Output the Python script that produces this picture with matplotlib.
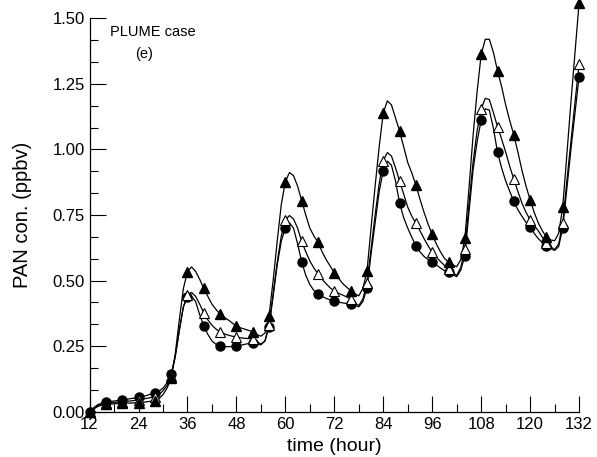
import matplotlib
matplotlib.use("Agg")
import matplotlib.pyplot as plt
from matplotlib.ticker import MultipleLocator, FixedLocator
import numpy as np

plt.rcParams['font.family'] = ['Liberation Sans', 'DejaVu Sans']

# time axis (hours) for the curves
hours = list(range(12, 133))

# filled triangles
case_a = [0.000, 0.010, 0.020, 0.025, 0.028, 0.029, 0.030, 0.031, 0.032, 0.033, 0.033, 0.034,
          0.035, 0.036, 0.038, 0.040, 0.042, 0.050, 0.065, 0.090, 0.127, 0.220, 0.350, 0.470,
          0.534, 0.552, 0.535, 0.505, 0.470, 0.440, 0.410, 0.390, 0.372, 0.360, 0.350, 0.338,
          0.327, 0.320, 0.315, 0.310, 0.305, 0.295, 0.288, 0.300, 0.366, 0.500, 0.650, 0.790,
          0.877, 0.912, 0.900, 0.860, 0.805, 0.750, 0.700, 0.670, 0.646, 0.610, 0.580, 0.555,
          0.530, 0.510, 0.490, 0.475, 0.462, 0.450, 0.442, 0.470, 0.535, 0.700, 0.860, 1.010,
          1.140, 1.185, 1.170, 1.120, 1.070, 1.010, 0.950, 0.910, 0.864, 0.810, 0.760, 0.715,
          0.676, 0.640, 0.610, 0.585, 0.570, 0.560, 0.553, 0.580, 0.661, 0.850, 1.050, 1.220,
          1.362, 1.420, 1.420, 1.370, 1.300, 1.240, 1.170, 1.110, 1.055, 0.990, 0.920, 0.860,
          0.807, 0.760, 0.720, 0.690, 0.665, 0.655, 0.652, 0.680, 0.782, 0.980, 1.180, 1.370,
          1.559]

# open triangles
case_b = [0.000, 0.012, 0.024, 0.030, 0.033, 0.034, 0.035, 0.037, 0.038, 0.040, 0.041, 0.043,
          0.045, 0.048, 0.051, 0.054, 0.058, 0.065, 0.080, 0.100, 0.135, 0.210, 0.310, 0.400,
          0.445, 0.455, 0.440, 0.410, 0.377, 0.350, 0.330, 0.315, 0.305, 0.297, 0.292, 0.288,
          0.285, 0.282, 0.280, 0.279, 0.278, 0.268, 0.258, 0.270, 0.330, 0.450, 0.570, 0.670,
          0.731, 0.748, 0.735, 0.700, 0.650, 0.610, 0.575, 0.548, 0.526, 0.505, 0.488, 0.472,
          0.460, 0.452, 0.445, 0.438, 0.430, 0.415, 0.405, 0.430, 0.490, 0.620, 0.750, 0.870,
          0.957, 0.988, 0.975, 0.930, 0.880, 0.830, 0.780, 0.745, 0.718, 0.690, 0.660, 0.632,
          0.608, 0.590, 0.573, 0.558, 0.545, 0.530, 0.520, 0.550, 0.620, 0.790, 0.950, 1.070,
          1.154, 1.195, 1.190, 1.140, 1.087, 1.040, 0.990, 0.935, 0.887, 0.840, 0.795, 0.760,
          0.731, 0.710, 0.690, 0.665, 0.645, 0.630, 0.618, 0.640, 0.720, 0.880, 1.030, 1.180,
          1.326]

# filled circles
case_c = [0.000, 0.015, 0.027, 0.033, 0.037, 0.039, 0.041, 0.043, 0.045, 0.047, 0.050, 0.052,
          0.055, 0.058, 0.062, 0.067, 0.072, 0.078, 0.090, 0.110, 0.144, 0.210, 0.310, 0.400,
          0.436, 0.440, 0.420, 0.370, 0.328, 0.295, 0.270, 0.257, 0.250, 0.248, 0.248, 0.249,
          0.250, 0.253, 0.257, 0.260, 0.263, 0.258, 0.255, 0.270, 0.324, 0.440, 0.560, 0.650,
          0.702, 0.720, 0.700, 0.640, 0.572, 0.520, 0.485, 0.462, 0.448, 0.440, 0.432, 0.426,
          0.422, 0.418, 0.415, 0.413, 0.412, 0.405, 0.400, 0.420, 0.472, 0.600, 0.720, 0.840,
          0.919, 0.955, 0.940, 0.880, 0.795, 0.740, 0.700, 0.665, 0.632, 0.610, 0.592, 0.580,
          0.572, 0.560, 0.548, 0.538, 0.531, 0.522, 0.515, 0.540, 0.595, 0.760, 0.920, 1.030,
          1.112, 1.155, 1.150, 1.080, 0.990, 0.930, 0.880, 0.840, 0.802, 0.770, 0.745, 0.722,
          0.705, 0.680, 0.660, 0.645, 0.633, 0.622, 0.615, 0.630, 0.702, 0.850, 1.000, 1.140,
          1.277]

marker_step = 4  # markers every 4 hours
x_ticks = [12, 24, 36, 48, 60, 72, 84, 96, 108, 120, 132]
y_ticks = [0.00, 0.25, 0.50, 0.75, 1.00, 1.25, 1.50]

fig = plt.figure(figsize=(5.97, 4.57), dpi=100)
ax = fig.add_axes([0.150, 0.099, 0.820, 0.861])

h = np.array(hours)
series = [
    (case_c, dict(marker='o', mfc='black', mec='black', ms=6.5)),
    (case_b, dict(marker='^', mfc='white', mec='black', ms=6.5, mew=0.8)),
    (case_a, dict(marker='^', mfc='black', mec='black', ms=6.5)),
]
for vals, mk in series:
    v = np.array(vals)
    ax.plot(h, v, color='black', lw=0.9, clip_on=False, zorder=2)
    ax.plot(h[::marker_step], v[::marker_step], ls='none', clip_on=False, zorder=3, **mk)

ax.set_xlim(12, 132)
ax.set_ylim(0, 1.5)
ax.xaxis.set_major_locator(FixedLocator(x_ticks))
ax.xaxis.set_minor_locator(MultipleLocator(6))
ax.yaxis.set_major_locator(FixedLocator(y_ticks))
ax.yaxis.set_minor_locator(MultipleLocator(0.25 / 3))
ax.set_xticklabels([str(t) for t in x_ticks])
ax.set_yticklabels([f"{t:.2f}" for t in y_ticks])

for s in ['top', 'right']:
    ax.spines[s].set_visible(False)
for s in ['left', 'bottom']:
    ax.spines[s].set_linewidth(0.9)

ax.tick_params(which='major', direction='in', length=11.5, width=0.8, labelsize=12, pad=4)
ax.tick_params(which='minor', direction='in', length=5.5, width=0.8)
ax.tick_params(axis='y', which='major', pad=3.5)

fig.text(0.56, 0.014, 'time (hour)', fontsize=14, ha='center', va='baseline')
ax.set_ylabel('PAN con. (ppbv)', fontsize=14.5, labelpad=4)
ax.yaxis.set_label_coords(-0.118, 0.5)

ax.text(17.0, 1.446, 'PLUME case', fontsize=10.5, ha='left', va='center')
ax.text(25.4, 1.362, '(e)', fontsize=10.5, ha='center', va='center')

fig.savefig('out.png', dpi=100)
